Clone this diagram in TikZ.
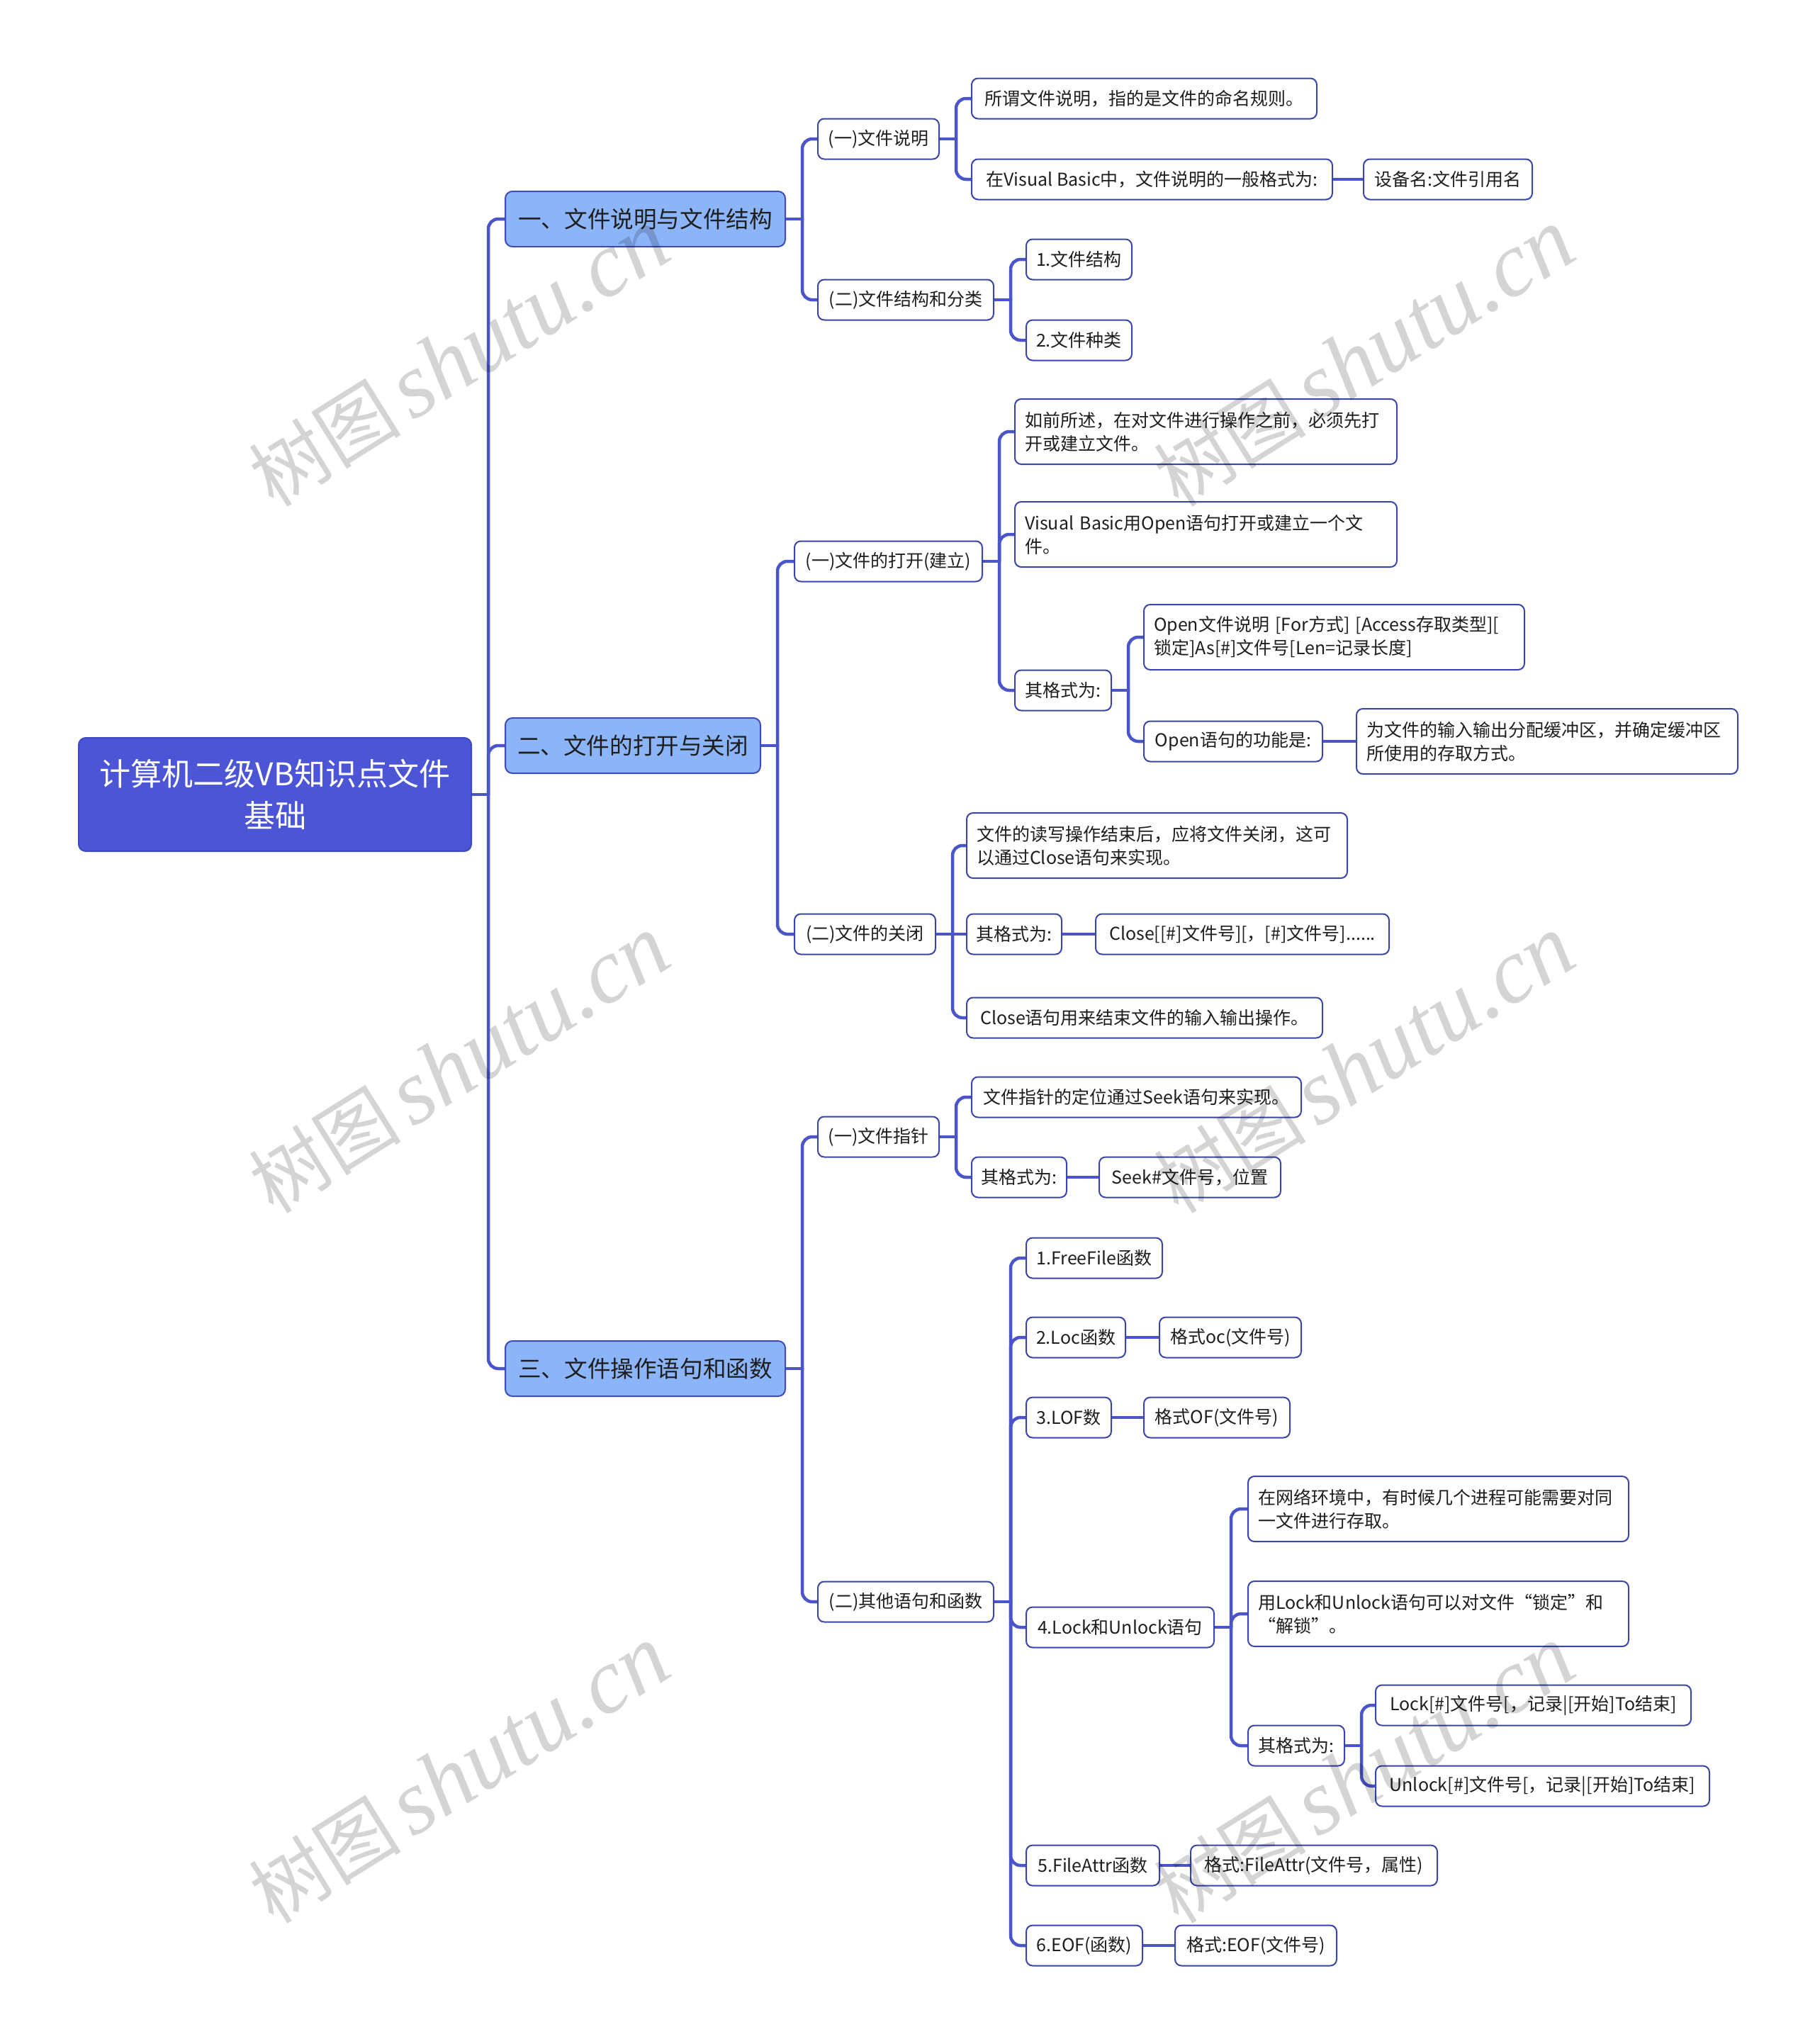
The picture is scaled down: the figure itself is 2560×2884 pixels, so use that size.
\documentclass[tikz,border=0pt]{standalone}
\usepackage{fontspec}
\setmainfont{Noto Sans CJK SC}
\newfontfamily\wmlatin{Liberation Serif}
\usetikzlibrary{calc,backgrounds}
\definecolor{rootfill}{HTML}{4B55D6}
\definecolor{rootdraw}{HTML}{3E48C0}
\definecolor{lonefill}{HTML}{8CB5F9}
\definecolor{lonedraw}{HTML}{3F4CB8}
\definecolor{boxdraw}{HTML}{3A45AA}
\definecolor{linecol}{HTML}{4A55C9}
\definecolor{txtcol}{HTML}{1E1E1E}
\tikzset{
  box/.style={draw=boxdraw, line width=2pt, fill=white, rounded corners=9pt,
    minimum height=57pt, inner xsep=6pt, inner ysep=0pt, anchor=west,
    text=txtcol, font=\fontsize{25}{33}\selectfont},
  boxtwo/.style={box, minimum height=92pt, inner xsep=14pt, align=left},
  lvone/.style={box, fill=lonefill, draw=lonedraw, minimum height=78pt,
    rounded corners=10pt, font=\fontsize{32.6}{40}\selectfont},
  rootbox/.style={draw=rootdraw, line width=2pt, fill=rootfill, rounded corners=10pt,
    minimum height=160pt, anchor=west, text=white, align=center,
    font=\fontsize{44}{59}\selectfont},
  conn/.style={draw=linecol, line width=4.5pt, rounded corners=14pt, line cap=round},
  stub/.style={draw=linecol, line width=4.5pt, line cap=round},
  wmark/.style={rotate=32, opacity=0.17, text=black}
}
\newcommand\mmjunc[1]{\coordinate (#1j) at ($(#1.east)+(23,0)$);\draw[stub] (#1.east) -- (#1j);}
\newcommand\mmlink[2]{\draw[conn] (#1j) |- (#2.west);}
\newcommand\mmstraight[2]{\draw[stub] (#1.east) -- (#2.west);}
\begin{document}
\begin{tikzpicture}[x=1pt,y=-1pt]
\useasboundingbox (0,0) rectangle (2560,2884);
% root and level 1
\node[rootbox, minimum width=554pt] (R) at (110,1121) {计算机二级VB知识点文件\\基础};
\node[lvone, minimum width=395pt] (A) at (712,309) {一、文件说明与文件结构};
\node[lvone, minimum width=360pt] (B) at (712,1052) {二、文件的打开与关闭};
\node[lvone, minimum width=395pt] (C) at (712,1931) {三、文件操作语句和函数};
% branch A
\node[box, minimum width=171pt] (A1) at (1153,196) {(一)文件说明};
\node[box, minimum width=487pt] (A11) at (1370,139) {所谓文件说明，指的是文件的命名规则。};
\node[box, minimum width=509pt] (A12) at (1370,253) {在Visual Basic中，文件说明的一般格式为:};
\node[box, minimum width=238pt] (A121) at (1923,253) {设备名:文件引用名};
\node[box, minimum width=248pt] (A2) at (1153,423) {(二)文件结构和分类};
\node[box, minimum width=149pt] (A21) at (1447,366) {1.文件结构};
\node[box, minimum width=149pt] (A22) at (1447,480) {2.文件种类};
% branch B
\node[box, minimum width=265pt] (B1) at (1120,792) {(一)文件的打开(建立)};
\node[boxtwo, text width=511pt] (B11) at (1431,609) {\mbox{如前所述，在对文件进行操作之前，必须先打}\\\mbox{开或建立文件。}};
\node[boxtwo, text width=511pt] (B12) at (1431,754) {\mbox{Visual Basic用Open语句打开或建立一个文}\\\mbox{件。}};
\node[box, minimum width=136pt] (B13) at (1431,974) {其格式为:};
\node[boxtwo, text width=509pt] (B131) at (1613,899) {\mbox{Open文件说明 [For方式] [Access存取类型][}\\\mbox{锁定]As[\#]文件号[Len=记录长度]}};
\node[box, minimum width=252pt] (B132) at (1613,1046) {Open语句的功能是:};
\node[boxtwo, text width=510pt] (B1321) at (1913,1046) {\mbox{为文件的输入输出分配缓冲区，并确定缓冲区}\\\mbox{所使用的存取方式。}};
\node[box, minimum width=199pt] (B2) at (1120,1318) {(二)文件的关闭};
\node[boxtwo, text width=509pt] (B21) at (1363,1193) {\mbox{文件的读写操作结束后，应将文件关闭，这可}\\\mbox{以通过Close语句来实现。}};
\node[box, minimum width=134pt] (B22) at (1363,1318) {其格式为:};
\node[box, minimum width=414pt] (B221) at (1545,1318) {Close[[\#]文件号][，[\#]文件号]......};
\node[box, minimum width=502pt] (B23) at (1363,1436) {Close语句用来结束文件的输入输出操作。};
% branch C
\node[box, minimum width=171pt] (C1) at (1153,1604) {(一)文件指针};
\node[box, minimum width=465pt] (C11) at (1370,1548) {文件指针的定位通过Seek语句来实现。};
\node[box, minimum width=134pt] (C12) at (1370,1661) {其格式为:};
\node[box, minimum width=256pt] (C121) at (1550,1661) {Seek\#文件号，位置};
\node[box, minimum width=248pt] (C2) at (1153,2260) {(二)其他语句和函数};
\node[box, minimum width=192pt] (C21) at (1447,1775) {1.FreeFile函数};
\node[box, minimum width=140pt] (C22) at (1447,1887) {2.Loc函数};
\node[box, minimum width=200pt] (C221) at (1635,1887) {格式oc(文件号)};
\node[box, minimum width=120pt] (C23) at (1447,2000) {3.LOF数};
\node[box, minimum width=206pt] (C231) at (1613,2000) {格式OF(文件号)};
\node[box, minimum width=265pt] (C24) at (1447,2296) {4.Lock和Unlock语句};
\node[boxtwo, text width=509pt] (C241) at (1760,2129) {\mbox{在网络环境中，有时候几个进程可能需要对同}\\\mbox{一文件进行存取。}};
\node[boxtwo, text width=509pt] (C242) at (1760,2277) {\mbox{用Lock和Unlock语句可以对文件“锁定”和}\\\mbox{“解锁”。}};
\node[box, minimum width=136pt] (C243) at (1760,2463) {其格式为:};
\node[box, minimum width=445pt] (C2431) at (1940,2406) {Lock[\#]文件号[，记录|[开始]To结束]};
\node[box, minimum width=471pt] (C2432) at (1940,2520) {Unlock[\#]文件号[，记录|[开始]To结束]};
\node[box, minimum width=188pt] (C25) at (1447,2632) {5.FileAttr函数};
\node[box, minimum width=348pt] (C251) at (1679,2632) {格式:FileAttr(文件号，属性)};
\node[box, minimum width=164pt] (C26) at (1447,2745) {6.EOF(函数)};
\node[box, minimum width=228pt] (C261) at (1657,2745) {格式:EOF(文件号)};
% connectors
\begin{scope}[on background layer]
\fill[white] (0,0) rectangle (2560,2884);
\mmjunc{R}\mmlink{R}{A}\mmlink{R}{B}\mmlink{R}{C}
\mmjunc{A}\mmlink{A}{A1}\mmlink{A}{A2}
\mmjunc{A1}\mmlink{A1}{A11}\mmlink{A1}{A12}
\mmstraight{A12}{A121}
\mmjunc{A2}\mmlink{A2}{A21}\mmlink{A2}{A22}
\mmjunc{B}\mmlink{B}{B1}\mmlink{B}{B2}
\mmjunc{B1}\mmlink{B1}{B11}\mmlink{B1}{B12}\mmlink{B1}{B13}
\mmjunc{B13}\mmlink{B13}{B131}\mmlink{B13}{B132}
\mmstraight{B132}{B1321}
\mmjunc{B2}\mmlink{B2}{B21}\mmlink{B2}{B23}\mmstraight{B2}{B22}
\mmstraight{B22}{B221}
\mmjunc{C}\mmlink{C}{C1}\mmlink{C}{C2}
\mmjunc{C1}\mmlink{C1}{C11}\mmlink{C1}{C12}
\mmstraight{C12}{C121}
\mmjunc{C2}\mmlink{C2}{C21}\mmlink{C2}{C22}\mmlink{C2}{C23}\mmlink{C2}{C24}\mmlink{C2}{C25}\mmlink{C2}{C26}
\mmstraight{C22}{C221}
\mmstraight{C23}{C231}
\mmjunc{C24}\mmlink{C24}{C241}\mmlink{C24}{C242}\mmlink{C24}{C243}
\mmjunc{C243}\mmlink{C243}{C2431}\mmlink{C243}{C2432}
\mmstraight{C25}{C251}
\mmstraight{C26}{C261}
\end{scope}
% watermarks
\foreach \wx/\wy [count=\i] in {648/505,1925/505,648/1502,1925/1502,648/2504,1925/2504}{
  \node[wmark] (wm\i) at (\wx,\wy) {\fontsize{108}{110}\selectfont 树图\hspace{16pt}{\wmlatin\itshape\fontsize{130}{132}\selectfont shutu.cn}};
}
\end{tikzpicture}
\end{document}
